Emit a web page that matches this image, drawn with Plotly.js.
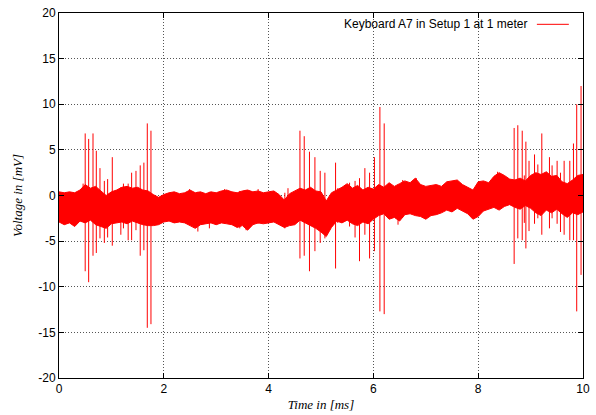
<!DOCTYPE html>
<html>
<head>
<meta charset="utf-8">
<script src="https://cdn.plot.ly/plotly-3.0.1.min.js"></script>
<style>html,body{margin:0;padding:0;background:#fff;}#chart{width:596px;height:415px;}</style>
</head>
<body>
<div id="chart"></div>
<script>
var bandTime = [0.0,0.1,0.2,0.3,0.4,0.5,0.6,0.7,0.8,0.9,1.0,1.1,1.2,1.3,1.4,1.5,1.6,1.7,1.8,1.9,2.0,2.1,2.2,2.3,2.4,2.5,2.6,2.7,2.8,2.9,3.0,3.1,3.2,3.3,3.4,3.5,3.6,3.7,3.8,3.9,4.0,4.1,4.2,4.3,4.4,4.5,4.6,4.7,4.8,4.9,5.0,5.1,5.2,5.3,5.4,5.5,5.6,5.7,5.8,5.9,6.0,6.1,6.2,6.3,6.4,6.5,6.6,6.7,6.8,6.9,7.0,7.1,7.2,7.3,7.4,7.5,7.6,7.7,7.8,7.9,8.0,8.1,8.2,8.3,8.4,8.5,8.6,8.7,8.8,8.9,9.0,9.1,9.2,9.3,9.4,9.5,9.6,9.7,9.8,9.9,10.0];
var bandUpper = [0.4,0.3,0.4,0.3,0.6,1.2,0.8,1.0,0.5,0.0,0.4,0.6,0.9,1.0,0.8,0.9,0.6,0.5,0.1,-0.2,0.1,0.3,0.4,0.2,0.3,0.6,0.3,0.4,0.2,0.4,0.3,0.5,0.6,0.4,0.3,0.5,0.6,0.4,0.5,0.3,0.4,0.5,0.1,-0.5,0.2,0.5,0.8,0.6,0.9,0.5,0.4,-0.6,0.3,0.6,0.9,1.3,0.8,1.1,0.6,0.9,0.7,1.2,0.9,1.4,1.0,1.3,1.6,1.4,1.9,1.2,1.0,1.1,1.2,1.0,1.5,1.6,1.7,1.2,0.9,0.6,1.5,1.6,1.4,2.1,2.5,2.2,1.8,1.7,1.9,1.6,2.2,2.5,2.3,2.6,2.1,2.2,1.5,1.3,1.7,2.2,2.3];
var bandLower = [-2.9,-3.2,-3.0,-3.4,-2.8,-3.0,-2.7,-3.2,-3.4,-3.6,-3.1,-3.0,-2.9,-3.1,-2.8,-3.0,-3.2,-3.3,-3.3,-3.2,-2.9,-2.8,-3.0,-2.9,-3.0,-3.3,-3.6,-3.2,-3.1,-3.0,-3.2,-3.0,-3.1,-3.2,-3.5,-3.3,-3.8,-3.2,-3.0,-3.1,-3.0,-2.9,-3.2,-3.5,-3.3,-3.2,-2.7,-3.0,-3.3,-3.6,-4.0,-4.5,-3.5,-2.8,-3.0,-2.7,-3.1,-3.3,-2.9,-3.1,-2.6,-2.2,-2.0,-2.6,-2.4,-2.8,-2.1,-2.0,-2.2,-2.3,-2.6,-2.2,-2.1,-1.9,-1.6,-1.8,-1.4,-1.7,-2.0,-2.6,-2.3,-1.7,-1.5,-1.3,-1.6,-1.2,-1.0,-1.3,-1.5,-1.1,-1.4,-1.9,-2.2,-1.6,-1.9,-1.5,-2.0,-2.4,-1.9,-2.1,-1.8];

// Keystroke spikes and smaller excursions: time (ms), peak (mV), trough (mV)
var spikeTime = [0.46,0.50,0.566,0.649,0.712,0.782,0.865,0.928,1.017,1.18,1.23,1.32,1.386,1.469,1.55,1.62,1.685,1.755,2.49,2.65,2.87,3.16,3.45,3.57,3.80,4.31,4.37,4.598,4.68,4.78,4.884,4.985,5.074,5.278,5.32,5.545,5.65,5.735,5.837,5.927,6.02,6.124,6.206,6.47,6.56,6.82,8.37,8.686,8.756,8.84,8.88,8.91,8.97,9.075,9.138,9.214,9.36,9.41,9.506,9.57,9.64,9.748,9.818,9.88,9.963];
var spikeHigh = [1.3,6.8,6.2,6.8,4.9,3.0,1.6,1.8,4.2,0.9,1.3,1.3,2.5,2.7,3.3,3.6,7.9,7.1,0.7,0.4,0.4,0.7,0.5,0.6,0.7,0.3,0.8,7.1,6.5,4.8,4.2,2.7,2.5,3.6,0.8,1.4,1.6,1.9,3.0,2.5,4.2,9.7,7.9,1.2,1.7,1.9,2.6,7.4,7.7,7.1,2.2,5.9,3.8,4.5,3.4,6.8,4.2,3.3,3.8,2.5,3.8,3.8,5.7,10.0,12.0];
var spikeLow = [-2.7,-8.3,-9.5,-6.6,-6.3,-4.7,-5.2,-4.6,-5.5,-4.3,-3.6,-4.9,-4.9,-3.8,-6.6,-6.0,-14.5,-14.1,-3.0,-3.95,-3.6,-3.1,-3.6,-3.8,-3.1,-3.6,-3.2,-6.9,-6.6,-8.3,-6.1,-5.2,-4.7,-8.0,-3.0,-3.4,-4.6,-7.2,-4.3,-6.9,-6.1,-12.7,-13.0,-3.2,-2.4,-2.2,-1.5,-7.5,-4.7,-4.9,-3.0,-5.8,-3.9,-3.1,-2.5,-4.3,-3.6,-2.5,-3.1,-4.0,-4.3,-4.9,-4.9,-12.7,-8.7];

var xTickVals = [0,2,4,6,8,10];
var yTickVals = [-20,-15,-10,-5,0,5,10,15,20];
var seriesName = 'Keyboard A7 in Setup 1 at 1 meter';

var sx = [], sy = [];
for (var i = 0; i < spikeTime.length; i++) {
  sx.push(spikeTime[i], spikeTime[i], null);
  sy.push(spikeLow[i], spikeHigh[i], null);
}

var red = '#ff0000';
var traces = [
  {x: bandTime, y: bandLower, type: 'scatter', mode: 'lines', line: {color: red, width: 1}, showlegend: false, hoverinfo: 'skip'},
  {x: bandTime, y: bandUpper, type: 'scatter', mode: 'lines', fill: 'tonexty', fillcolor: red, line: {color: red, width: 1}, showlegend: false, hoverinfo: 'skip'},
  {x: sx, y: sy, type: 'scatter', mode: 'lines', line: {color: red, width: 1}, name: seriesName, showlegend: false, hoverinfo: 'skip'}
];

var axisCommon = {
  showline: true, linecolor: '#000', linewidth: 1, mirror: 'ticks',
  ticks: 'inside', ticklen: 5, tickcolor: '#000', tickwidth: 1,
  showgrid: true, gridcolor: '#555', griddash: '1px,2px', gridwidth: 1,
  zeroline: false,
  tickfont: {family: 'Liberation Sans, Arial, sans-serif', size: 12, color: '#000'}
};

var layout = {
  width: 596, height: 415,
  margin: {l: 59, r: 13, t: 13, b: 37},
  paper_bgcolor: '#fff', plot_bgcolor: '#fff',
  xaxis: Object.assign({}, axisCommon, {
    range: [0, 10], tickvals: xTickVals, ticktext: xTickVals.map(String),
    title: {text: 'Time in [ms]', standoff: 4, font: {family: 'Liberation Serif, Times New Roman, serif', size: 13, color: '#000', style: 'italic'}}
  }),
  yaxis: Object.assign({}, axisCommon, {
    range: [-20, 20], tickvals: yTickVals, ticktext: yTickVals.map(String),
    title: {text: 'Voltage in [mV]', standoff: 12, font: {family: 'Liberation Serif, Times New Roman, serif', size: 13, color: '#000', style: 'italic'}}
  }),
  showlegend: false,
  annotations: [{
    xref: 'paper', yref: 'paper', x: 0.897, y: 0.969, xanchor: 'right', yanchor: 'middle',
    text: seriesName, showarrow: false,
    font: {family: 'Liberation Sans, Arial, sans-serif', size: 12, color: '#000'}
  }],
  shapes: [{
    type: 'line', xref: 'paper', yref: 'paper', x0: 0.912, x1: 0.973, y0: 0.969, y1: 0.969,
    line: {color: red, width: 1}
  }]
};

Plotly.newPlot('chart', traces, layout, {staticPlot: true, displayModeBar: false});
</script>
</body>
</html>
